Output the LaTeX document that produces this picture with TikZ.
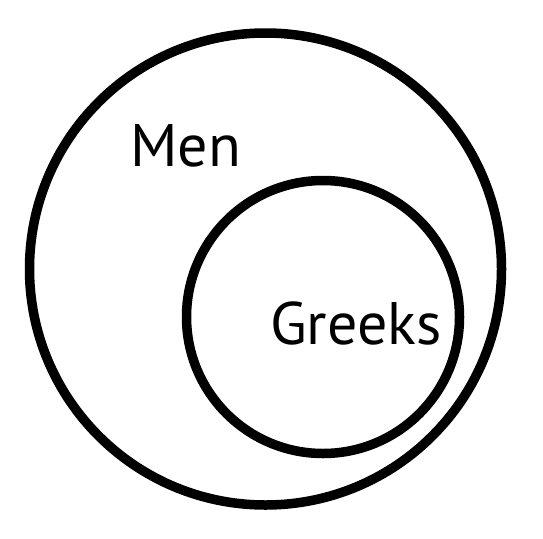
\documentclass[tikz,border=0pt]{standalone}
\usepackage{fontspec}
\setmainfont{PT Sans}
\usepackage{tikz}

\begin{document}
\begin{tikzpicture}[x=1pt, y=-1pt, set/.style={line width=9.5pt}]
    % 1. Khung hình
    \useasboundingbox (0,0) rectangle (543,538);
    % 2. Hai tập hợp
    \draw[set] (265.5,269) circle (236);
    \draw[set] (323,317) circle (136.5);
    % 3. Nhãn
    \node[anchor=base west, inner sep=0pt, font=\fontsize{60}{72}\selectfont] (men) at (130,166) {Men};
    \node[anchor=base west, inner sep=0pt, font=\fontsize{60}{72}\selectfont] (greeks) at (270,344) {Greeks};
\end{tikzpicture}
\end{document}
